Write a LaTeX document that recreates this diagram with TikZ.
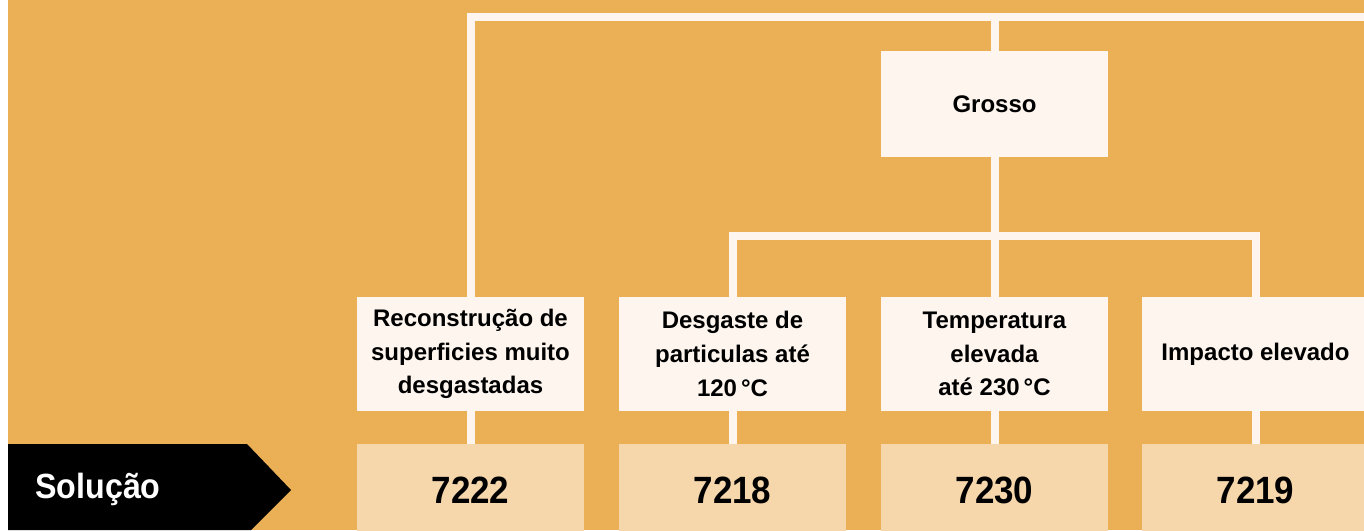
\documentclass[tikz,border=0pt]{standalone}
\usepackage{fontspec}
\setsansfont{Liberation Sans}[FakeStretch=0.92]
\newfontfamily\boxfont{Liberation Sans}
\usepackage{xcolor}
\usepackage{tikz}
\usetikzlibrary{positioning,calc}

\definecolor{bgorange}{HTML}{EBB056}
\definecolor{cream}{HTML}{FDF5EE}
\definecolor{sand}{HTML}{F6D6AB}

\begin{document}
\begin{tikzpicture}[x=0.5pt,y=-0.5pt,
  labelbox/.style={fill=cream, minimum width=113.5pt, minimum height=57pt, inner sep=0pt, align=center,
    font=\boxfont\bfseries\fontsize{12}{16.8}\selectfont},
  codebox/.style={fill=sand, minimum width=113.5pt, minimum height=46pt, inner sep=0pt,
    font=\sffamily\bfseries\fontsize{19}{22}\selectfont},
  link/.style={draw=cream, line width=4pt}]
\useasboundingbox (0,0) rectangle (1364,530);

% Background
\fill[white] (0,0) rectangle (8,530);
\fill[bgorange] (8,0) rectangle (1364,530);

% Criteria
\node[labelbox, minimum height=53pt] (grosso) at (994.5,104) {Grosso};
\node[labelbox] (recon) at (470.5,354) {Reconstrução de\\superficies muito\\desgastadas};
\node[labelbox] (desg) at (732.5,354) {Desgaste de\\particulas até\\120\,°C};
\node[labelbox] (temp) at (994.5,354) {Temperatura\\elevada\\até 230\,°C};
\node[labelbox] (imp) at (1255.5,354) {Impacto elevado};

% Solution codes
\node[codebox] (c7222) at (470.5,490) {7222};
\node[codebox] (c7218) at (732.5,490) {7218};
\node[codebox] (c7230) at (994.5,490) {7230};
\node[codebox] (c7219) at (1255.5,490) {7219};

% Solucao tag
\fill[black] (8,444) -- (247,444) -- (291,490) -- (251,530) -- (8,530) -- cycle;
\node[anchor=base west, inner sep=0pt, text=white, font=\sffamily\bfseries\fontsize{17.5}{20}\selectfont] (sol) at (35,498) {Solução};

% Tree lines
\coordinate (topright) at (1364,17);
\coordinate (split) at (994.5,236);
\draw[link] (recon.north) |- (topright);
\draw[link] (grosso.north) -- (grosso.north |- topright);
\draw[link] (grosso.south) -- (split);
\draw[link] (desg.north) |- (split) -| (imp.north);
\draw[link] (split) -- (temp.north);
\foreach \a/\b in {recon/c7222, desg/c7218, temp/c7230, imp/c7219}
  \draw[link] (\a.south) -- (\b.north);

\end{tikzpicture}
\end{document}
